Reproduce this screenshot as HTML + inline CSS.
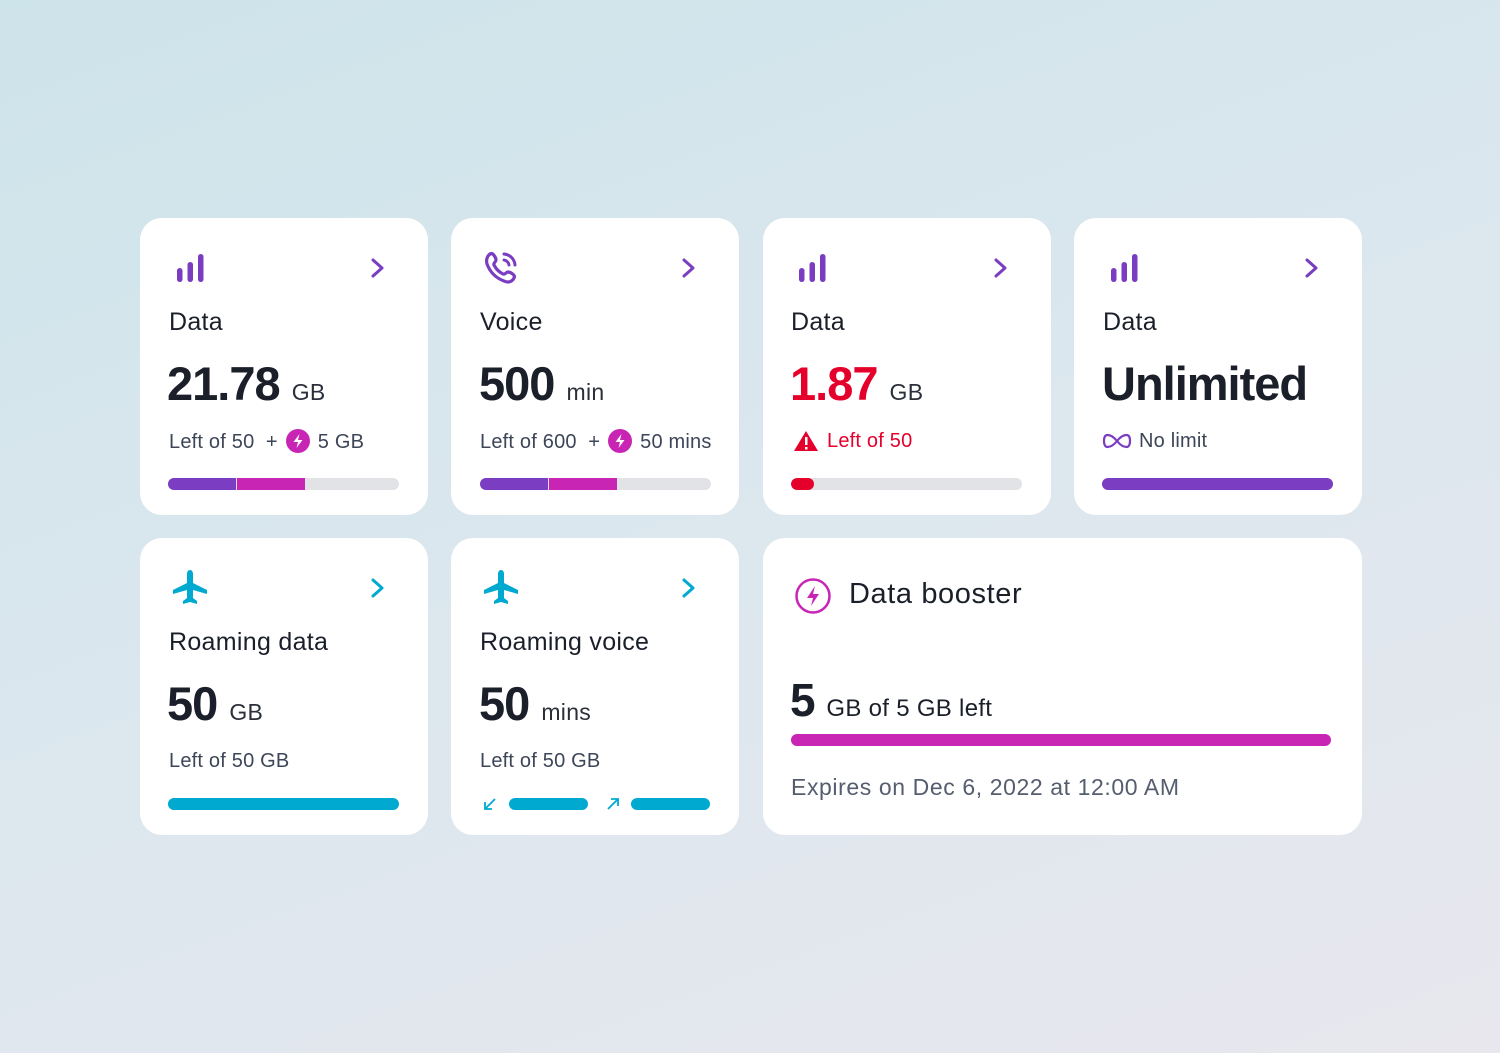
<!DOCTYPE html>
<html><head><meta charset="utf-8"><style>
*{margin:0;padding:0;box-sizing:border-box}
body{width:1500px;height:1053px;overflow:hidden;font-family:"Liberation Sans",sans-serif;background:linear-gradient(160deg,#cde4ea 0%,#dce7ee 50%,#e8e7ee 100%);position:relative;color:#1b1f2a}
.c{position:absolute;background:#fff;border-radius:22px;width:288px;height:297px}
.a{position:absolute}
.t{position:absolute;font-size:25px;color:#1b1f2a;letter-spacing:0.3px}
.big{position:absolute;font-size:47px;font-weight:bold;letter-spacing:-1px;color:#1b1f2a;white-space:nowrap}
.big span{font-size:23px;font-weight:normal;letter-spacing:0.3px;color:#2a2f3a}
.s{position:absolute;font-size:20px;color:#3d4658;white-space:nowrap;letter-spacing:0.2px;line-height:24px}
.bar{position:absolute;height:12px;border-radius:6px;background:#e2e3e7;overflow:hidden}
.bolt{display:inline-block;width:24px;height:24px;vertical-align:-5px;margin:0 8px}
</style></head><body>
<svg width="0" height="0" style="position:absolute"><defs>
<g id="sig"><rect x="0" y="14" width="5.5" height="14" rx="2.75"/><rect x="10.5" y="8" width="5.5" height="20" rx="2.75"/><rect x="21" y="0" width="5.5" height="28" rx="2.75"/></g>
<g id="plane"><path d="M19 0c2 0 3 2 3 4v9l14 7v4l-14-4v8l4 3v3l-7-2-7 2v-3l4-3v-8L2 24v-4l14-7V4c0-2 1-4 3-4z"/></g>
<g id="bl"><circle cx="12" cy="12" r="12" fill="#c825b4"/><path d="M13.5 5l-6 8h4.5l-1.5 6 6-8h-4.5z" fill="#fff"/></g>
</defs></svg>

<!-- card 1 -->
<div class="c" style="left:140px;top:218px"></div>
<svg class="a" style="left:177px;top:254px" width="28" height="28" fill="#7a3cc0"><use href="#sig"/></svg>
<svg class="a" style="left:370px;top:257px" width="16" height="22"><path d="M3 3l9 8-9 8" stroke="#7a3cc0" stroke-width="3" fill="none" stroke-linecap="round" stroke-linejoin="round"/></svg>
<div class="t" style="left:169px;top:308px">Data</div>
<div class="big" style="left:167px;top:356px">21.78 <span>GB</span></div>
<div class="s" style="left:169px;top:429px">Left of 50 &nbsp;+<svg class="bolt"><use href="#bl"/></svg>5 GB</div>
<div class="bar" style="left:168px;top:478px;width:231px"><div class="a" style="left:0;width:68px;height:12px;background:#7b3dc1"></div><div class="a" style="left:69px;width:68px;height:12px;background:#c825b4"></div></div>

<!-- card 2 -->
<div class="c" style="left:451px;top:218px"></div>
<svg class="a" style="left:484px;top:250px" width="36" height="36"><path d="M6 4c3-2 6 4 6 6s-3 3-2 5c2 4 5 7 9 9 2 1 3-2 5-2s8 3 6 6c-2 4-6 5-10 3C12 28 6 22 3 14 2 10 3 6 6 4z" fill="none" stroke="#7a3cc0" stroke-width="3.2"/><path d="M20 4a12 12 0 0 1 11 11M20 10a6 6 0 0 1 5 5" stroke="#7a3cc0" stroke-width="3" fill="none" stroke-linecap="round"/></svg>
<svg class="a" style="left:681px;top:257px" width="16" height="22"><path d="M3 3l9 8-9 8" stroke="#7a3cc0" stroke-width="3" fill="none" stroke-linecap="round" stroke-linejoin="round"/></svg>
<div class="t" style="left:480px;top:308px">Voice</div>
<div class="big" style="left:479px;top:356px">500 <span>min</span></div>
<div class="s" style="left:480px;top:429px">Left of 600 &nbsp;+<svg class="bolt"><use href="#bl"/></svg>50 mins</div>
<div class="bar" style="left:480px;top:478px;width:231px"><div class="a" style="left:0;width:68px;height:12px;background:#7b3dc1"></div><div class="a" style="left:69px;width:68px;height:12px;background:#c825b4"></div></div>

<!-- card 3 -->
<div class="c" style="left:763px;top:218px"></div>
<svg class="a" style="left:799px;top:254px" width="28" height="28" fill="#7a3cc0"><use href="#sig"/></svg>
<svg class="a" style="left:993px;top:257px" width="16" height="22"><path d="M3 3l9 8-9 8" stroke="#7a3cc0" stroke-width="3" fill="none" stroke-linecap="round" stroke-linejoin="round"/></svg>
<div class="t" style="left:791px;top:308px">Data</div>
<div class="big" style="left:790px;top:356px;color:#e4002b">1.87 <span>GB</span></div>
<svg class="a" style="left:793px;top:430px" width="26" height="22"><path d="M13 1L25 21H1z" fill="#e4002b"/><rect x="12" y="7" width="2.5" height="8" fill="#fff"/><rect x="12" y="17" width="2.5" height="2.5" fill="#fff"/></svg>
<div class="s" style="left:827px;top:429px;color:#e4002b">Left of 50</div>
<div class="bar" style="left:791px;top:478px;width:231px"><div class="a" style="left:0;width:23px;height:12px;background:#e4002b;border-radius:6px"></div></div>

<!-- card 4 -->
<div class="c" style="left:1074px;top:218px"></div>
<svg class="a" style="left:1111px;top:254px" width="28" height="28" fill="#7a3cc0"><use href="#sig"/></svg>
<svg class="a" style="left:1304px;top:257px" width="16" height="22"><path d="M3 3l9 8-9 8" stroke="#7a3cc0" stroke-width="3" fill="none" stroke-linecap="round" stroke-linejoin="round"/></svg>
<div class="t" style="left:1103px;top:308px">Data</div>
<div class="big" style="left:1102px;top:356px">Unlimited</div>
<svg class="a" style="left:1102px;top:433px" width="30" height="16"><path d="M15 8c-4-5-7-6-9.5-6S2 4 2 8s1.5 6 3.5 6S11 13 15 8s7-6 9.5-6S28 4 28 8s-1.5 6-3.5 6S19 13 15 8z" stroke="#7a3cc0" stroke-width="2.2" fill="none"/></svg>
<div class="s" style="left:1139px;top:429px">No limit</div>
<div class="bar" style="left:1102px;top:478px;width:231px;background:#7b3dc1"></div>

<!-- card 5 -->
<div class="c" style="left:140px;top:538px"></div>
<svg class="a" style="left:171px;top:570px" width="38" height="36" fill="#00a9d0"><use href="#plane"/></svg>
<svg class="a" style="left:370px;top:577px" width="16" height="22"><path d="M3 3l9 8-9 8" stroke="#00a9d0" stroke-width="3" fill="none" stroke-linecap="round" stroke-linejoin="round"/></svg>
<div class="t" style="left:169px;top:628px">Roaming data</div>
<div class="big" style="left:167px;top:676px">50 <span>GB</span></div>
<div class="s" style="left:169px;top:749px">Left of 50 GB</div>
<div class="bar" style="left:168px;top:798px;width:231px;background:#00a9d0"></div>

<!-- card 6 -->
<div class="c" style="left:451px;top:538px"></div>
<svg class="a" style="left:482px;top:570px" width="38" height="36" fill="#00a9d0"><use href="#plane"/></svg>
<svg class="a" style="left:681px;top:577px" width="16" height="22"><path d="M3 3l9 8-9 8" stroke="#00a9d0" stroke-width="3" fill="none" stroke-linecap="round" stroke-linejoin="round"/></svg>
<div class="t" style="left:480px;top:628px">Roaming voice</div>
<div class="big" style="left:479px;top:676px">50 <span>mins</span></div>
<div class="s" style="left:480px;top:749px">Left of 50 GB</div>
<svg class="a" style="left:483px;top:797px" width="14" height="14"><path d="M12 2L2 12M2 5v7h7" stroke="#00a9d0" stroke-width="1.8" fill="none"/></svg>
<div class="bar" style="left:509px;top:798px;width:79px;background:#00a9d0"></div>
<svg class="a" style="left:606px;top:797px" width="14" height="14"><path d="M2 12L12 2M5 2h7v7" stroke="#00a9d0" stroke-width="1.8" fill="none"/></svg>
<div class="bar" style="left:631px;top:798px;width:79px;background:#00a9d0"></div>

<!-- card 7 -->
<div class="c" style="left:763px;top:538px;width:599px"></div>
<svg class="a" style="left:794px;top:577px" width="38" height="38"><circle cx="19" cy="19" r="16.5" stroke="#c825b4" stroke-width="2.5" fill="none"/><path d="M21 9l-8 12h6l-2 8 8-12h-6z" fill="#c825b4"/></svg>
<div class="t" style="left:849px;top:578px;font-size:29px;letter-spacing:0.6px">Data booster</div>
<div class="big" style="left:790px;top:673px;font-size:46px">5 <span style="color:#1b1f2a;font-size:24px">GB of 5 GB left</span></div>
<div class="bar" style="left:791px;top:734px;width:540px;background:#c825b4"></div>
<div class="s" style="left:791px;top:775px;font-size:23px;letter-spacing:0.6px;color:#555d6e">Expires on Dec 6, 2022 at 12:00 AM</div>
</body></html>
